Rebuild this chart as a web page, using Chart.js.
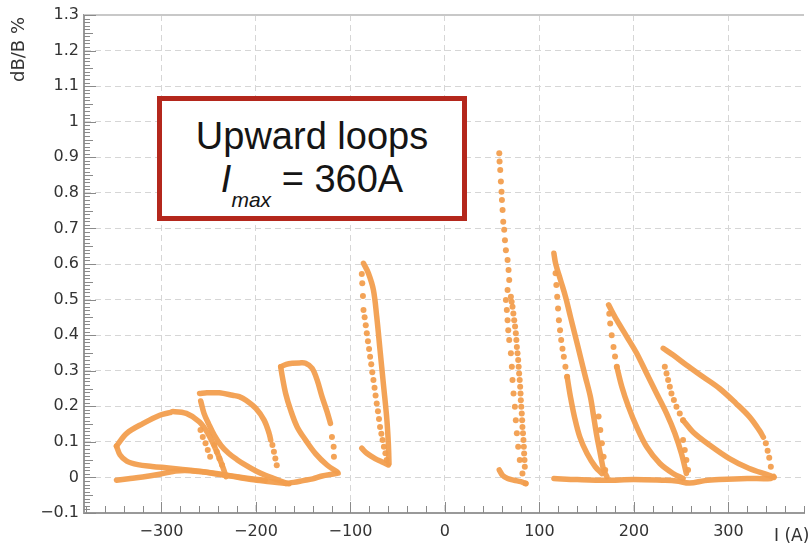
<!DOCTYPE html>
<html>
<head>
<meta charset="utf-8">
<script src="https://cdn.jsdelivr.net/npm/chart.js@4.4.0/dist/chart.umd.min.js"></script>
<style>
  body { margin: 0; background: #fff; }
  #wrap { position: relative; width: 808px; height: 550px; overflow: hidden; }
  #chart { position: absolute; left: 0; top: 0; }
  #ytitle {
    position: absolute; left: 8px; top: 82px; white-space: nowrap;
    font: 18px "DejaVu Sans"; line-height: 20px; color: #333;
    transform-origin: left top; transform: rotate(-90deg);
  }
  #xtitle {
    position: absolute; left: 774px; top: 525px; white-space: nowrap;
    font: 17px "DejaVu Sans"; line-height: 20px; color: #333;
  }
  #note {
    position: absolute; left: 157px; top: 96px; width: 310px; height: 125px;
    box-sizing: border-box; border: 5px solid #b4271c; background: #fff;
    font-family: "Liberation Sans", Arial, sans-serif; color: #151515;
  }
  #note .l1 { position: absolute; left: 0; right: 0; top: 16px; text-align: center; font-size: 38px; line-height: 38px; }
  #note .l2 { position: absolute; left: 0; right: 0; top: 59px; text-align: center; font-size: 38px; line-height: 38px; white-space: nowrap; }
  #note .it { font-style: italic; }
  #note .sub { font-style: italic; font-size: 21px; vertical-align: -15px; }
</style>
</head>
<body>
<div id="wrap">
  <canvas id="chart" width="808" height="550"></canvas>
  <div id="ytitle">dB/B %</div>
  <div id="xtitle">I (A)</div>
  <div id="note">
    <div class="l1">Upward loops</div>
    <div class="l2"><span class="it">I</span><span class="sub">max</span> = 360A</div>
  </div>
</div>
<script>
// axis ticks
const xTicks = [-300, -200, -100, 0, 100, 200, 300];
const yTicks = [-0.1, 0, 0.1, 0.2, 0.3, 0.4, 0.5, 0.6, 0.7, 0.8, 0.9, 1, 1.1, 1.2, 1.3];

// loop 1 (around -350 .. -230 A)
const l1UpperX = [-347.6, -336.8, -319.3, -301.8, -291.3, -287.8, -273.7, -259.7, -251.0, -242.2, -235.2, -231.7];
const l1UpperY = [0.088, 0.124, 0.152, 0.175, 0.182, 0.185, 0.180, 0.156, 0.124, 0.077, 0.030, 0.002];
const l1LowerX = [-347.6, -343.8, -336.8, -325, -310, -295, -280, -265, -250, -235, -220, -205, -190];
const l1LowerY = [0.088, 0.063, 0.046, 0.036, 0.031, 0.027, 0.023, 0.019, 0.014, 0.008, 0.002, -0.004, -0.008];
const l1BaseX = [-347.6, -335, -320, -302, -285, -270, -255, -240, -225, -205, -185, -165];
const l1BaseY = [-0.008, -0.004, 0.001, 0.009, 0.018, 0.019, 0.015, 0.009, 0.003, -0.006, -0.012, -0.018];

// loop 2 (around -260 .. -170 A)
const l2TopX = [-259.7, -252, -245.7, -238.7, -224.7, -217.7, -210.6, -200.1, -191.4, -186.1, -184.4];
const l2TopY = [0.236, 0.238, 0.238, 0.238, 0.231, 0.227, 0.217, 0.194, 0.161, 0.124, 0.105];
const l2TopDotsX = [-182.6, -181, -179.5, -178];
const l2TopDotsY = [0.091, 0.072, 0.053, 0.034];
const l2DiagX = [-258.5, -255, -250, -244, -237, -229, -220, -210, -200, -190, -180, -168];
const l2DiagY = [0.215, 0.180, 0.150, 0.118, 0.090, 0.068, 0.050, 0.033, 0.018, 0.006, -0.004, -0.016];
const l2DotsX = [-258.7, -256.3, -253.4, -251.0, -248.5, -243.9, -241.5, -238.7, -235.9];
const l2DotsY = [0.133, 0.114, 0.096, 0.077, 0.058, 0.091, 0.072, 0.053, 0.035];

// loop 3 (around -175 .. -115 A)
const l3TopX = [-173.8, -168, -161.6, -154, -147.5, -140.6, -135.3, -130.1, -124.8, -121.2];
const l3TopY = [0.311, 0.318, 0.321, 0.322, 0.321, 0.307, 0.274, 0.227, 0.185, 0.152];
const l3DotsX = [-119.6, -117.8, -117.5];
const l3DotsY = [0.114, 0.086, 0.058];
const l3LeftX = [-173.8, -172.1, -168.6, -163.3, -156.4, -147.5, -137, -124.8, -114.3];
const l3LeftY = [0.311, 0.283, 0.236, 0.189, 0.142, 0.105, 0.067, 0.035, 0.016];
const l3BaseX = [-168.6, -160, -150, -140, -130, -120, -113];
const l3BaseY = [-0.017, -0.014, -0.009, -0.004, 0.004, 0.009, 0.012];

// loop 4 (around -88 .. -60 A)
const l4RightX = [-86.2, -81, -75.7, -72.2, -68.7, -65.2, -61.7, -59.9, -59.2];
const l4RightY = [0.602, 0.574, 0.527, 0.452, 0.358, 0.264, 0.170, 0.096, 0.039];
const l4DotsX = [-88.0, -87.5, -86.8, -86.2, -85.0, -83.8, -82.7, -81.5, -80.3, -79.2, -78.0, -76.9, -75.7, -74.5, -73.4, -72.2, -70.9, -69.8, -68.7, -67.3, -66.0, -64.6, -63.0, -61.7];
const l4DotsY = [0.572, 0.546, 0.510, 0.471, 0.450, 0.428, 0.405, 0.383, 0.361, 0.339, 0.318, 0.296, 0.274, 0.252, 0.230, 0.208, 0.186, 0.164, 0.142, 0.123, 0.105, 0.086, 0.068, 0.049];
const l4HookX = [-88, -82.7, -73.9, -67, -59.9];
const l4HookY = [0.082, 0.068, 0.053, 0.044, 0.035];

// loop 5 (around 57 .. 86 A)
const l5LeftX = [57.5, 57.8, 58.5, 59.2, 59.9, 60.3, 61.0, 61.7, 62.7, 63.5, 64.5, 66.3, 67.3, 68.0, 66.3, 64.5, 65.5, 66.3, 67.0, 68.0, 69.8, 70.8, 71.5, 72.6, 74.0, 75.0, 76.1, 77.5, 79.2, 82.0];
const l5LeftY = [0.911, 0.888, 0.864, 0.832, 0.803, 0.780, 0.752, 0.719, 0.696, 0.667, 0.639, 0.611, 0.583, 0.555, 0.527, 0.499, 0.471, 0.442, 0.414, 0.386, 0.349, 0.311, 0.274, 0.236, 0.199, 0.161, 0.124, 0.086, 0.049, 0.011];
const l5RightX = [69.8, 70.6, 71.5, 72.4, 73.3, 74.2, 75.0, 75.6, 76.1, 76.8, 77.5, 78.0, 78.5, 79.1, 79.6, 80.0, 80.3, 80.8, 81.3, 81.7, 82.0, 82.6, 83.1, 83.5, 83.8, 84.2, 84.5, 85.5];
const l5RightY = [0.508, 0.494, 0.480, 0.461, 0.442, 0.424, 0.405, 0.386, 0.367, 0.349, 0.330, 0.311, 0.292, 0.274, 0.255, 0.236, 0.217, 0.199, 0.180, 0.161, 0.142, 0.124, 0.105, 0.086, 0.067, 0.049, 0.030, -0.017];
const l5HookX = [57.5, 61.0, 66.3, 73.3, 80.3, 85.5];
const l5HookY = [0.021, 0.006, -0.003, -0.008, -0.012, -0.017];

// loop 6 (around 115 .. 172 A)
const l6RightX = [115.3, 117.1, 122.3, 127.6, 132.8, 138.1, 143.4, 148.6, 153.9, 157.4, 160.9, 164.4, 167.9, 171.4];
const l6RightY = [0.630, 0.602, 0.555, 0.508, 0.452, 0.396, 0.339, 0.283, 0.227, 0.171, 0.114, 0.067, 0.021, 0.002];
const l6LeftDotsX = [117.1, 117.9, 118.8, 119.7, 120.6, 121.8, 123.0, 124.4, 125.8, 127.5, 129.3];
const l6LeftDotsY = [0.574, 0.541, 0.508, 0.475, 0.442, 0.414, 0.386, 0.362, 0.339, 0.311, 0.283];
const l6LeftX = [129.3, 132.8, 137.0, 142.7, 150.4, 159.1, 166.1];
const l6LeftY = [0.283, 0.227, 0.171, 0.114, 0.067, 0.030, 0.011];
const l6TailX = [162.6, 164.4, 166.1, 167.9, 169.6];
const l6TailY = [0.171, 0.133, 0.096, 0.058, 0.021];

// loop 7 (around 173 .. 258 A)
const l7RightX = [173.2, 181.9, 192.4, 202.9, 213.5, 224.0, 234.5, 243.3, 250.3, 255.5];
const l7RightY = [0.485, 0.442, 0.396, 0.349, 0.292, 0.236, 0.180, 0.124, 0.067, 0.011];
const l7LeftDotsX = [173.9, 174.9, 176.5, 178.4, 180.0, 181.9];
const l7LeftDotsY = [0.460, 0.433, 0.400, 0.367, 0.340, 0.311];
const l7LeftX = [181.9, 187.2, 194.2, 202.9, 213.5, 227.5, 241.5, 252.0];
const l7LeftY = [0.311, 0.255, 0.199, 0.142, 0.086, 0.039, 0.011, -0.003];
const l7TailX = [252.0, 253.8, 255.5, 257.3];
const l7TailY = [0.105, 0.077, 0.049, 0.021];

// loop 8 (around 231 .. 348 A)
const l8UpperX = [231.0, 241.5, 255.5, 273.0, 290.6, 308.1, 322.1, 332.6, 337.0];
const l8UpperY = [0.363, 0.344, 0.316, 0.283, 0.250, 0.208, 0.171, 0.133, 0.113];
const l8UpperDotsX = [339.6, 341.5, 343.2, 344.9];
const l8UpperDotsY = [0.096, 0.075, 0.055, 0.030];
const l8LowerDotsX = [232.7, 234.5, 236.2, 238.0, 239.7, 242.3, 245.0, 248.5, 252.0];
const l8LowerDotsY = [0.311, 0.292, 0.274, 0.255, 0.236, 0.218, 0.199, 0.180, 0.161];
const l8LowerX = [252.0, 262.5, 280.1, 301.1, 322.1, 343.2, 348.4];
const l8LowerY = [0.161, 0.128, 0.091, 0.053, 0.025, 0.006, 0.000];

// right-hand baseline (115 .. 348 A)
const baseRX = [115.3, 140, 170, 200, 230, 245, 259, 275, 290, 320, 345, 348];
const baseRY = [-0.003, -0.006, -0.008, -0.006, -0.008, -0.010, -0.016, -0.009, -0.006, -0.003, -0.003, 0.003];

const ORANGE = "rgba(242, 158, 78, 0.95)";

const curves = [
  [l1UpperX, l1UpperY, "line"], [l1LowerX, l1LowerY, "line"], [l1BaseX, l1BaseY, "line"],
  [l2TopX, l2TopY, "line"], [l2TopDotsX, l2TopDotsY, "dots"], [l2DiagX, l2DiagY, "line"], [l2DotsX, l2DotsY, "dots"],
  [l3TopX, l3TopY, "line"], [l3DotsX, l3DotsY, "dots"], [l3LeftX, l3LeftY, "line"], [l3BaseX, l3BaseY, "line"],
  [l4RightX, l4RightY, "line"], [l4DotsX, l4DotsY, "dots"], [l4HookX, l4HookY, "line"],
  [l5LeftX, l5LeftY, "dots"], [l5RightX, l5RightY, "dots"], [l5HookX, l5HookY, "line"],
  [l6RightX, l6RightY, "line"], [l6LeftDotsX, l6LeftDotsY, "dots"], [l6LeftX, l6LeftY, "line"], [l6TailX, l6TailY, "dots"],
  [l7RightX, l7RightY, "line"], [l7LeftDotsX, l7LeftDotsY, "dots"], [l7LeftX, l7LeftY, "line"], [l7TailX, l7TailY, "dots"],
  [l8UpperX, l8UpperY, "line"], [l8UpperDotsX, l8UpperDotsY, "dots"], [l8LowerDotsX, l8LowerDotsY, "dots"], [l8LowerX, l8LowerY, "line"],
  [baseRX, baseRY, "line"]
];

const datasets = curves.map(([xs, ys, kind]) => ({
  data: xs.map((x, i) => ({ x: x, y: ys[i] })),
  showLine: kind === "line",
  borderColor: ORANGE,
  backgroundColor: ORANGE,
  borderWidth: kind === "line" ? 5.5 : 0,
  borderCapStyle: "round",
  borderJoinStyle: "round",
  tension: 0.35,
  pointRadius: kind === "line" ? 0 : 3,
  pointBorderWidth: 0
}));

function fmt(v, digits) {
  const r = Math.round(v * digits) / digits;
  return r < 0 ? "\u2212" + Math.abs(r) : String(r === 0 ? 0 : r);
}

// ROOT-like frame: top line plus small inward ticks
const frameTicks = {
  id: "frameTicks",
  beforeDatasetsDraw(chart) {
    const { ctx, chartArea: a, scales: { x, y } } = chart;
    ctx.save();
    ctx.strokeStyle = "#c8c8c8";
    ctx.lineWidth = 2;
    ctx.beginPath();
    ctx.moveTo(a.left, a.top);
    ctx.lineTo(a.right, a.top);
    ctx.stroke();

    ctx.strokeStyle = "#8a8a8a";
    ctx.lineWidth = 1;
    ctx.beginPath();
    for (let i = -10; i <= 130; i++) {
      const py = Math.round(y.getPixelForValue(i / 100)) + 0.5;
      const len = i % 10 === 0 ? 12 : (i % 5 === 0 ? 9 : 6);
      ctx.moveTo(a.left, py);
      ctx.lineTo(a.left + len, py);
    }
    for (let i = -19; i <= 19; i++) {
      const px = Math.round(x.getPixelForValue(i * 20)) + 0.5;
      const len = i % 5 === 0 ? 11 : 7;
      ctx.moveTo(px, a.bottom);
      ctx.lineTo(px, a.bottom - len);
    }
    ctx.stroke();
    ctx.restore();
  }
};

new Chart(document.getElementById("chart"), {
  type: "scatter",
  data: { datasets: datasets },
  plugins: [frameTicks],
  options: {
    responsive: false,
    animation: false,
    devicePixelRatio: 1,
    layout: { padding: { top: 15, right: 0, left: 0, bottom: 0 } },
    plugins: { legend: { display: false }, tooltip: { enabled: false } },
    scales: {
      x: {
        type: "linear",
        min: -382,
        max: 380,
        afterBuildTicks: s => { s.ticks = xTicks.map(v => ({ value: v })); },
        afterFit: s => { s.height = 37; },
        ticks: {
          callback: v => fmt(v, 1),
          font: { family: "DejaVu Sans", size: 16 },
          color: "#333",
          padding: 9,
          maxRotation: 0
        },
        grid: { color: "#d6d6d6", drawTicks: false, lineWidth: 1 },
        border: { color: "#999", width: 2, dash: [6, 4] }
      },
      y: {
        type: "linear",
        min: -0.1,
        max: 1.3,
        afterBuildTicks: s => { s.ticks = yTicks.map(v => ({ value: v })); },
        afterFit: s => { s.width = 84; },
        ticks: {
          callback: v => fmt(v, 10),
          font: { family: "DejaVu Sans", size: 16 },
          color: "#333",
          padding: 5
        },
        grid: { color: "#d6d6d6", drawTicks: false, lineWidth: 1 },
        border: { color: "#999", width: 2, dash: [6, 4] }
      }
    }
  }
});
</script>
</body>
</html>
